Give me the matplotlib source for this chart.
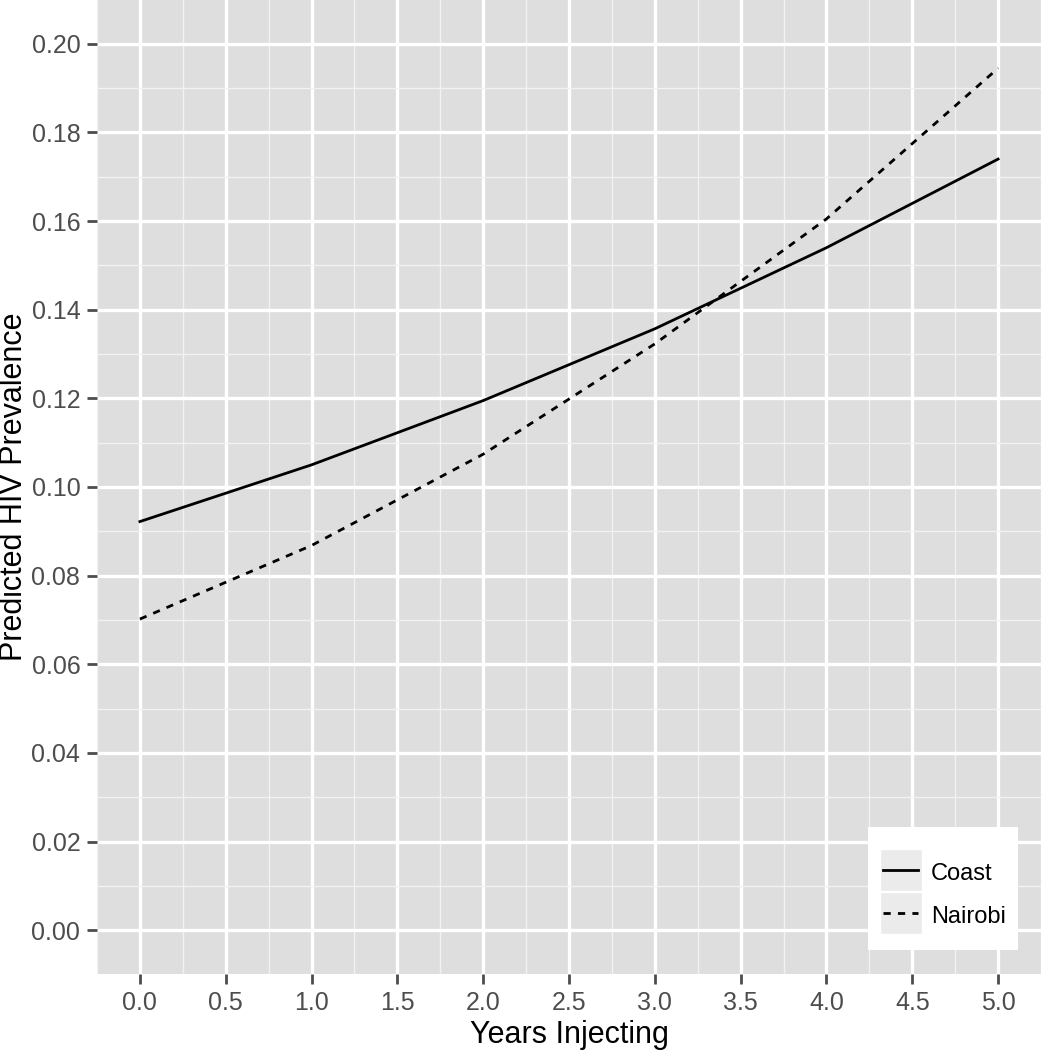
import matplotlib
matplotlib.use("Agg")
import matplotlib.pyplot as plt
from matplotlib.legend_handler import HandlerLine2D
from matplotlib.lines import Line2D
from matplotlib.patches import Rectangle
from matplotlib.ticker import MultipleLocator

plt.rcParams['font.family'] = ['Liberation Sans', 'DejaVu Sans']

years = [0, 1, 2, 3, 4, 5]
coast = [0.0922, 0.1050, 0.1195, 0.1357, 0.1540, 0.1740]
nairobi = [0.0702, 0.0868, 0.1074, 0.1323, 0.1605, 0.1945]

x_ticks = [0.0, 0.5, 1.0, 1.5, 2.0, 2.5, 3.0, 3.5, 4.0, 4.5, 5.0]
y_ticks = [0.00, 0.02, 0.04, 0.06, 0.08, 0.10, 0.12, 0.14, 0.16, 0.18, 0.20]

panel_bg = '#DEDEDE'
key_bg = '#EBEBEB'
tick_grey = '#4D4D4D'
KEY_PT = 30  # legend key square, points


class KeyHandler(HandlerLine2D):
    # ggplot-style legend key: grey square behind a slightly shorter line sample
    def create_artists(self, legend, orig_handle, xdescent, ydescent,
                       width, height, fontsize, trans):
        cy = (height - ydescent) / 2
        bg = Rectangle((-xdescent, cy - KEY_PT / 2), width, KEY_PT,
                       facecolor=key_bg, edgecolor='white', linewidth=1.0,
                       transform=trans)
        arts = super().create_artists(legend, orig_handle, xdescent - 2.5,
                                      ydescent, width - 5, height, fontsize, trans)
        return [bg] + arts


fig = plt.figure(figsize=(10.44, 10.5), dpi=100)
ax = fig.add_axes([97 / 1044, 1 - 974 / 1050, 944 / 1044, 974 / 1050])
ax.set_facecolor(panel_bg)

l1, = ax.plot(years, coast, color='black', lw=2.0, label='Coast')
l2, = ax.plot(years, nairobi, color='black', lw=2.0, ls=(0, (2.6, 2.6)), label='Nairobi')

ax.set_xlim(-0.25, 5.25)
ax.set_ylim(-0.0099, 0.2099)
ax.set_xticks(x_ticks)
ax.set_xticklabels([f'{v:.1f}' for v in x_ticks])
ax.set_yticks(y_ticks)
ax.set_yticklabels([f'{v:.2f}' for v in y_ticks])
ax.xaxis.set_minor_locator(MultipleLocator(0.25))
ax.yaxis.set_minor_locator(MultipleLocator(0.01))

ax.grid(which='major', color='white', lw=2.4)
ax.grid(which='minor', color='#F2F2F2', lw=1.0)
ax.set_axisbelow(True)
for s in ax.spines.values():
    s.set_visible(False)

ax.tick_params(which='major', length=7, width=2, color=tick_grey,
               labelcolor=tick_grey, labelsize=18, pad=5)
ax.tick_params(which='minor', length=0)

ax.set_xlabel('Years Injecting', fontsize=22, va='baseline')
ax.xaxis.set_label_coords(0.5, -0.0705)
ax.set_ylabel('Predicted HIV Prevalence', fontsize=22, va='center')
ax.yaxis.set_label_coords(-0.0875, 0.5)

# white legend background box (ggplot legend.background)
ax.add_patch(Rectangle((0.817, 0.0246), 0.159, 0.1264, transform=ax.transAxes,
                       facecolor='white', edgecolor='none', zorder=4))

leg = ax.legend(handles=[l1, l2], loc='center left',
                bbox_to_anchor=(0.8294, 0.0821), borderaxespad=0,
                fontsize=17, frameon=False,
                handlelength=1.76, handleheight=1.2, handletextpad=0.4,
                labelspacing=0.76, borderpad=0,
                handler_map={Line2D: KeyHandler()})
leg.set_zorder(5)

fig.savefig('out.png', dpi=100)
